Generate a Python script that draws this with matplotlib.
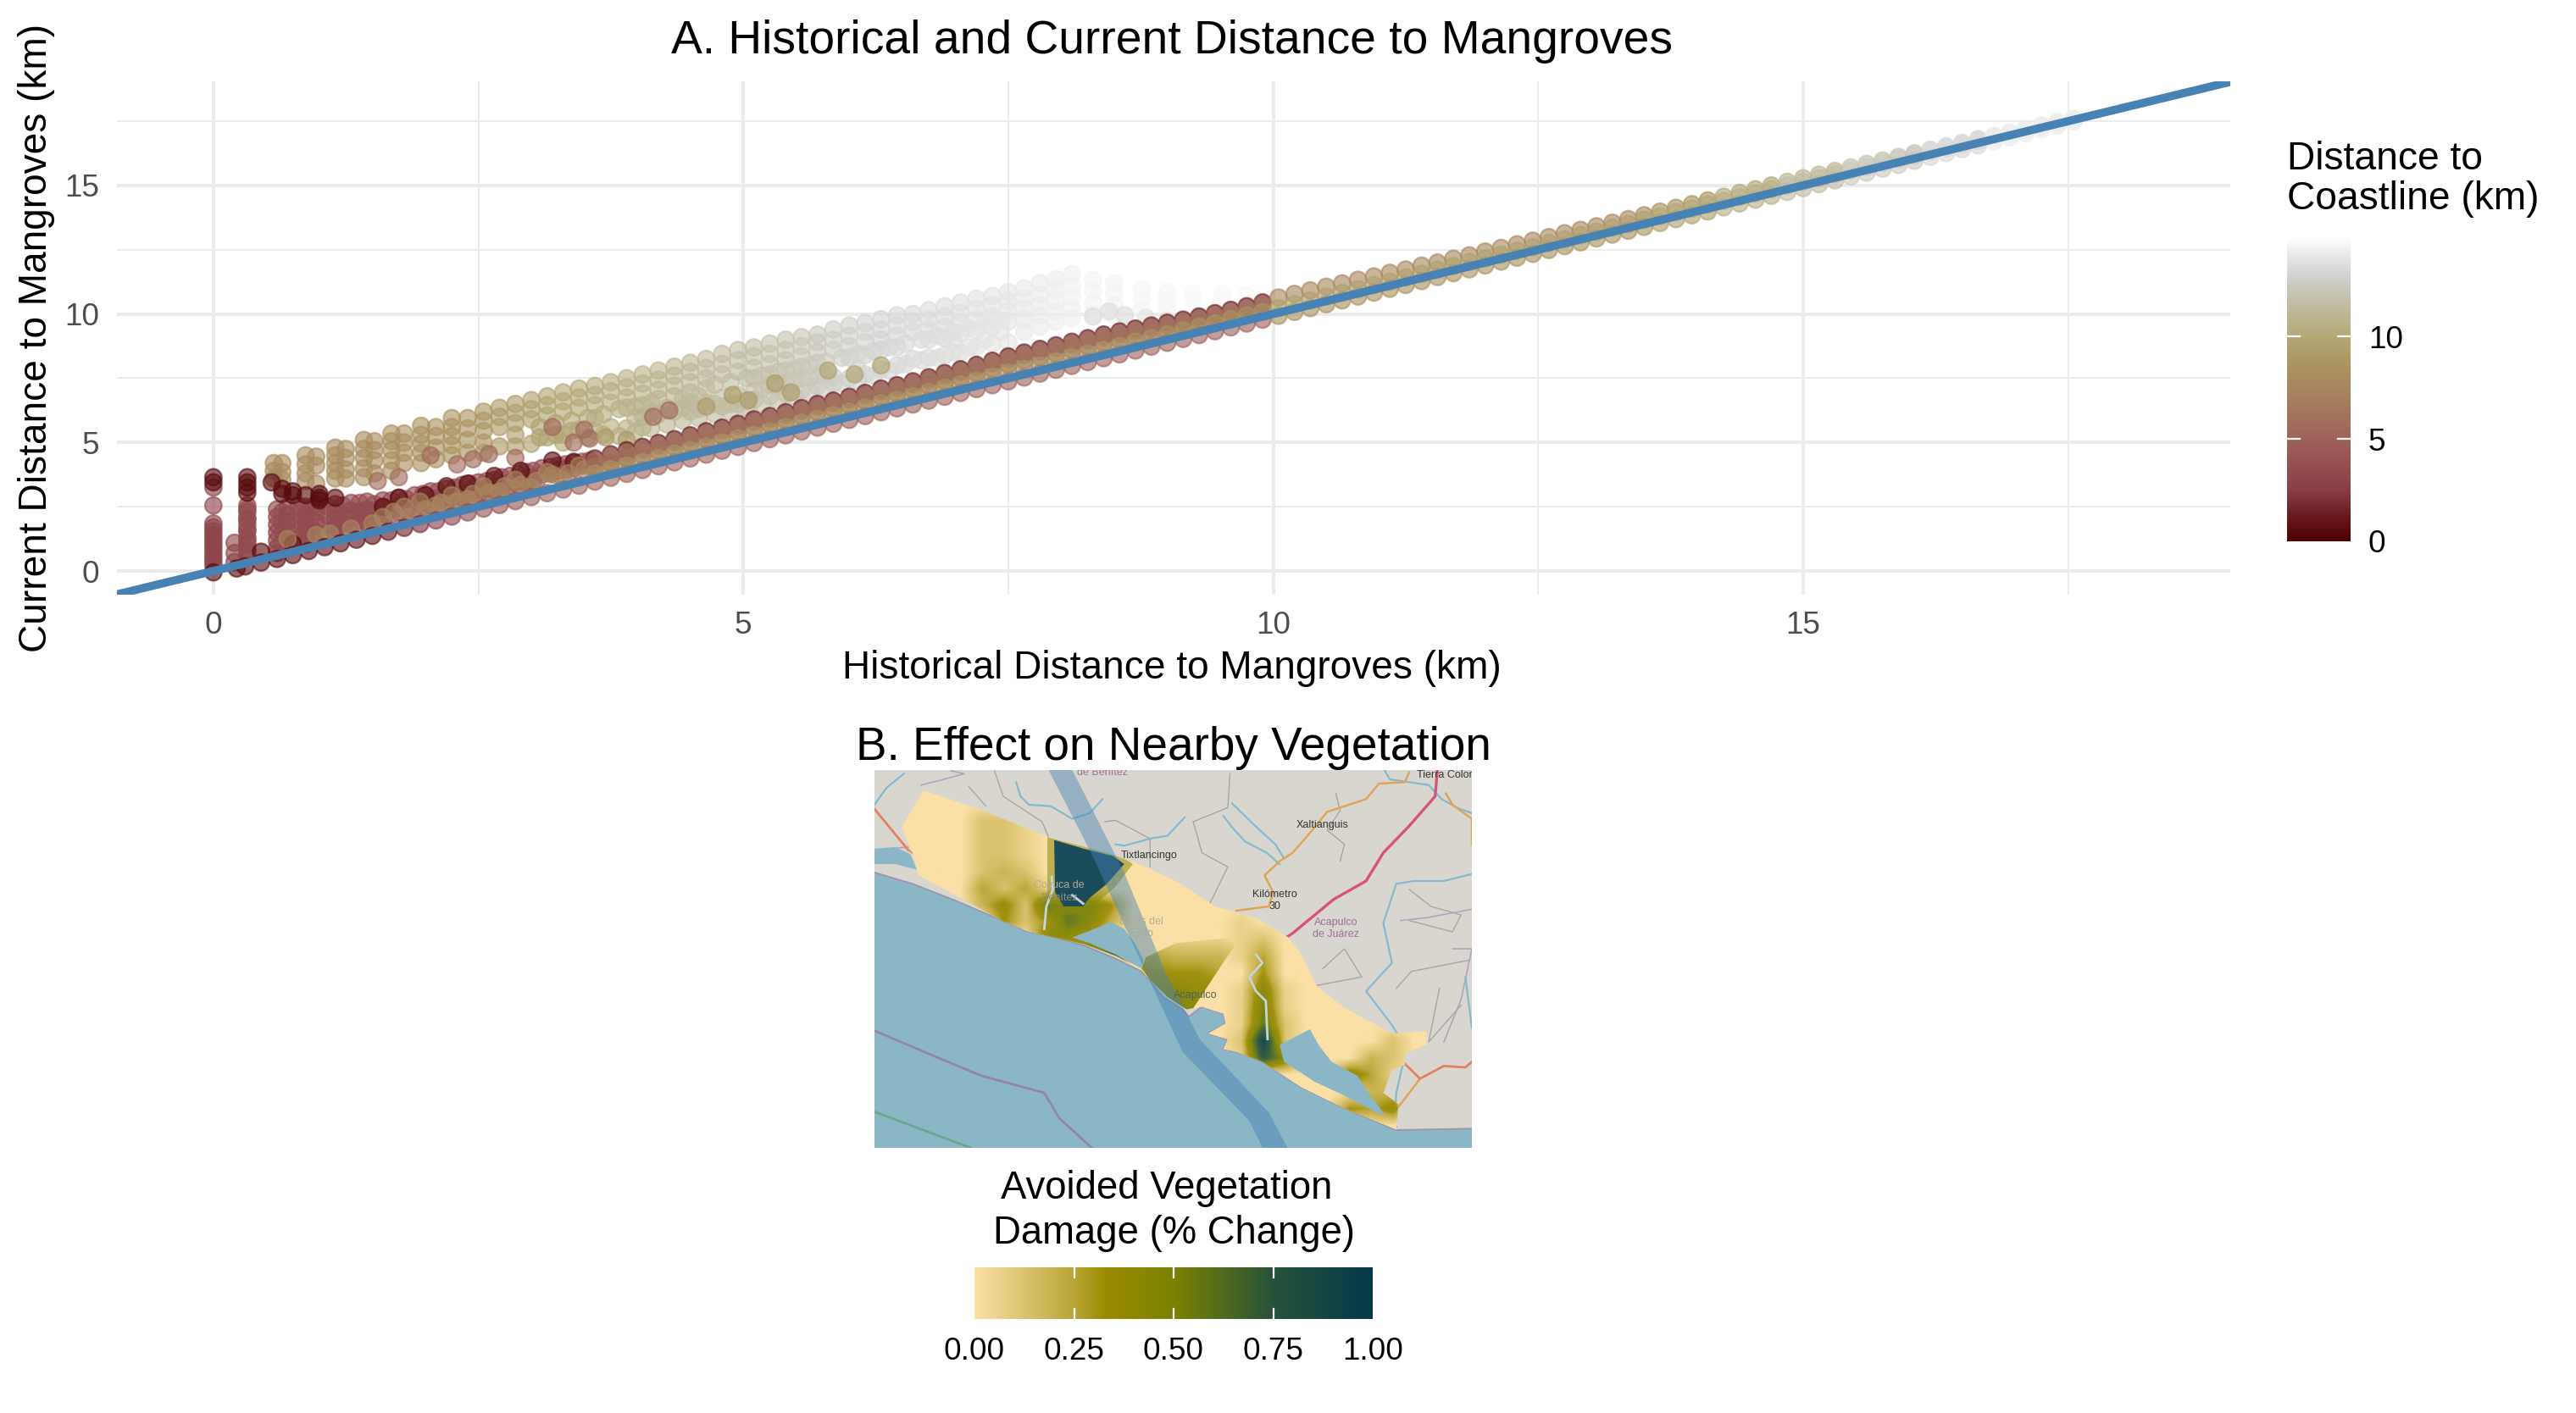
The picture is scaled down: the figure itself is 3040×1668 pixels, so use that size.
import numpy as np
import matplotlib
matplotlib.use("Agg")
import matplotlib.pyplot as plt
from matplotlib.colors import LinearSegmentedColormap, Normalize
from matplotlib.cm import ScalarMappable
from matplotlib.patches import Polygon

plt.rcParams['font.family'] = ['Liberation Sans', 'DejaVu Sans']

W, H = 3040, 1668

# ---- panel A values (km) ----
x_ticks = [0, 5, 10, 15]
x_minor = [2.5, 7.5, 12.5, 17.5]

# upper cloud, one column per historical distance
upper_x = [0.57, 0.65, 0.87, 0.97, 1.15, 1.25, 1.42, 1.52, 1.68, 1.8, 1.96, 2.1, 2.25, 2.4, 2.55, 2.7, 2.85, 3.0, 3.15, 3.3,
           3.45, 3.6, 3.75, 3.9, 4.05, 4.2, 4.35, 4.5, 4.65, 4.8, 4.95, 5.1, 5.25, 5.4, 5.55, 5.7, 5.85, 6.0, 6.15, 6.3,
           6.45, 6.6, 6.75, 6.9, 7.05, 7.2, 7.35, 7.5, 7.65, 7.8, 7.95, 8.1, 8.3, 8.5, 8.76, 9.0, 9.24, 9.52, 9.74]
upper_ys = [[4.2, 3.9, 3.6], [4.2, 3.85, 3.55], [4.5, 4.15, 3.8, 3.5], [4.45, 4.1, 3.4], [4.8, 4.5, 4.2, 3.9, 3.6],
            [4.75, 4.4, 3.95, 3.6], [5.1, 4.75, 4.4, 4.0, 3.65], [5.05, 4.7, 4.3, 3.8], [5.35, 5.05, 4.7, 4.3, 3.9],
            [5.35, 5.0, 4.6, 4.2], [5.65, 5.3, 4.95, 4.6, 4.2], [5.6, 5.25, 4.8, 4.35], [5.95, 5.6, 5.25, 4.9, 4.5],
            [5.95, 5.55, 5.1, 4.6], [6.2, 5.85, 5.45, 5.0, 4.6], [6.35, 6.0, 5.6, 4.85], [6.5, 6.15, 5.75, 5.3, 4.85],
            [6.65, 6.3, 5.9, 4.95], [6.8, 6.45, 6.05, 5.2], [6.95, 6.6, 6.2, 5.3, 5.0], [7.1, 6.75, 6.35, 5.5],
            [7.2, 6.85, 6.45, 5.95, 5.45], [7.35, 7.0, 6.55, 5.6], [7.5, 7.15, 6.75, 6.35, 5.55], [7.65, 7.3, 6.9, 6.45, 6.0, 5.6],
            [7.8, 7.45, 7.05, 6.7, 6.1], [7.95, 7.6, 7.2, 6.8, 6.2], [8.1, 7.75, 7.35, 6.95, 6.55, 6.2], [8.25, 7.9, 7.5, 7.1, 6.55],
            [8.45, 8.05, 7.65, 6.75, 6.4], [8.6, 8.2, 7.75, 6.85, 6.5], [8.7, 8.35, 7.9, 7.5, 7.0, 6.65], [8.85, 8.45, 8.05, 7.65, 7.25, 6.8],
            [9.0, 8.6, 8.2, 7.8, 7.3, 6.9], [9.1, 8.75, 8.35, 7.95, 7.5, 7.05], [9.2, 8.9, 8.5, 8.1, 7.6, 7.2], [9.4, 9.0, 8.6, 7.55, 7.3],
            [9.55, 9.15, 8.75, 8.3, 7.5], [9.65, 9.3, 8.9, 8.4, 7.65], [9.8, 9.4, 9.0, 8.6, 7.85], [9.95, 9.55, 9.15, 8.7, 8.0],
            [10.0, 9.7, 9.3, 8.25], [10.15, 9.8, 9.4, 9.0, 8.3], [10.3, 9.9, 9.5, 9.05, 8.4], [10.45, 10.05, 9.65, 9.25, 8.5],
            [10.6, 10.2, 9.8, 9.35, 8.7], [10.7, 10.35, 9.9, 9.5, 8.85], [10.85, 10.5, 10.1, 9.7, 8.9], [11.0, 10.6, 10.2, 9.8, 9.3],
            [11.2, 10.75, 10.35, 9.95, 9.5], [11.35, 10.95, 10.5, 10.1, 9.7], [11.55, 11.1, 10.65, 10.2, 9.85], [11.3, 10.9, 10.45, 10.0],
            [11.2, 10.8, 10.35, 9.95], [10.95, 10.55, 10.15], [10.85, 10.5, 10.2], [10.8, 10.5], [10.78, 10.55], [10.75]]
upper_d = [8, 8, 8, 8, 8, 8, 8, 8, 8.2, 8.2, 8.3, 8.4, 8.5, 8.6, 8.8, 9, 9.3, 9.5, 9.7, 10,
           10, 10.2, 10.4, 10.6, 10.8, 11, 11, 11.2, 11.4, 11.5, 11.6, 11.7, 11.9, 12, 12.2, 12.4, 12.6, 12.8, 13, 13.1,
           13.2, 13.3, 13.4, 13.5, 13.6, 13.7, 13.8, 13.9, 14, 14.1, 14.2, 14.3, 14.4, 14.4, 14.5, 14.5, 14.6, 14.6, 14.6]
# in-between columns in the lower half of the cloud
extra_x = [3.08, 3.23, 3.38, 3.53, 3.68, 3.83, 3.98, 4.13, 4.28, 4.43, 4.58, 4.73, 4.88, 5.03, 5.18, 5.33, 5.48, 5.63, 5.78, 5.93,
           6.08, 6.23, 6.38, 6.53, 6.68, 6.83, 6.98, 7.13, 7.28, 7.43]
extra_ys = [[5.6, 5.2], [5.75, 5.3], [5.85, 5.45], [5.95, 5.2], [6.1, 5.3], [6.3, 5.25], [6.4, 5.95, 5.4], [6.55, 6.15, 5.55], [6.35, 5.7],
            [6.7, 6.35, 5.85], [6.8, 6.3, 5.95], [7.25, 6.5, 6.1], [7.35, 6.5, 6.2], [7.5, 6.6, 6.35], [7.6, 7.1, 6.5], [7.75, 7.2, 6.65],
            [7.85, 7.4, 6.8], [8.0, 7.5, 6.95], [8.15, 7.65, 7.1], [8.3, 7.3], [8.45, 7.85, 7.4], [8.55, 7.6], [8.7, 7.8], [8.85, 8.05],
            [9.0, 8.2], [9.15, 8.3], [9.3, 8.95, 8.5], [9.45, 8.7], [9.6, 9.0], [9.75, 9.3]]
extra_d = [9.5, 9.7, 10, 10.2, 10.4, 10.6, 10.8, 11, 11, 11.2, 11.4, 11.5, 11.6, 11.7, 11.9, 12, 12.2, 12.4, 12.6, 12.8,
           13, 13.1, 13.2, 13.3, 13.4, 13.5, 13.6, 13.7, 13.8, 13.9]

# pale points scattered between the columns
pink_x = [2.05, 2.3, 2.6, 2.85, 3.2, 3.4, 3.5, 3.55, 4.15, 4.3, 1.55, 1.75, 2.45]
pink_y = [4.5, 4.15, 4.55, 4.4, 5.6, 5.0, 5.5, 5.15, 6.0, 6.25, 3.5, 3.65, 4.35]
ring_x = [3.7, 3.9, 4.65, 4.9, 5.05, 5.3, 5.45, 5.8, 6.05, 6.3, 8.3, 8.45, 8.6, 8.8, 9.0, 9.3]
ring_y = [5.2, 5.1, 6.4, 6.85, 6.65, 7.3, 6.95, 7.8, 7.65, 8.0, 9.9, 10.1, 9.95, 9.85, 9.75, 9.9]
ring_d = [9, 9, 9, 9, 9, 9, 9, 9.5, 9.5, 9.5, 13.5, 13.5, 13.5, 13.8, 13.8, 14]

# maroon mass on the left
mass_x = [0.0, 0.2, 0.32, 0.6, 0.7, 0.87, 0.97, 1.15, 1.3, 1.45, 1.6, 1.75, 1.9, 2.05, 2.2, 2.35, 2.5, 2.65, 2.8, 2.95, 3.1, 3.25, 3.4, 3.55]
mass_ys = [[3.25, 2.55, 1.85, 1.7, 1.55, 1.4, 1.25, 1.1, 0.95, 0.8, 0.65, 0.5, 0.35, 0.2], [1.1, 0.7, 0.35],
           [2.55, 2.3, 2.05, 1.8, 1.55, 1.3, 1.05, 0.8, 0.55], [2.4, 2.1, 1.8, 1.5, 1.2, 0.9, 0.7], [2.5, 2.2, 1.9, 1.6, 1.3, 1.0],
           [2.5, 2.2, 1.9, 1.6, 1.3, 1.05], [2.6, 2.3, 1.9, 1.5], [2.6, 2.3, 2.0, 1.7, 1.45], [2.65, 2.35, 2.05, 1.8],
           [2.7, 2.4, 2.1, 1.85], [2.75, 2.45, 2.2, 1.95], [2.85, 2.5, 2.3], [2.95, 2.65, 2.4], [3.1, 2.8, 2.55], [3.2, 2.9, 2.7],
           [3.35, 3.0, 2.85], [3.45, 3.15, 3.0], [3.55, 3.3, 3.15], [3.7, 3.45, 3.3], [3.85, 3.6, 3.45], [4.0, 3.75], [4.1, 3.9], [4.2, 4.0], [4.3, 4.15]]
# second layer, between the columns above
mass2_x = [0.32, 0.65, 0.8, 0.92, 1.08, 1.22, 1.38, 1.52, 1.68, 1.82, 1.98, 2.12, 2.28, 2.42, 2.58, 2.72, 2.88, 3.02, 3.18, 3.32, 3.48]
mass2_ys = [[2.4, 2.0, 1.6, 1.2, 0.8], [2.3, 1.9, 1.5, 1.1], [2.55, 2.25, 1.95, 1.6, 1.25], [2.45, 2.05, 1.7, 1.3], [2.5, 2.15, 1.8, 1.45],
            [2.55, 2.2, 1.85, 1.6], [2.65, 2.3, 2.0, 1.75], [2.6, 2.3, 2.05], [2.75, 2.4, 2.2], [2.8, 2.55, 2.35], [3.0, 2.7, 2.5],
            [3.1, 2.85, 2.65], [3.25, 2.95, 2.75], [3.4, 3.1, 2.9], [3.5, 3.2, 3.05], [3.65, 3.35, 3.2], [3.75, 3.5, 3.35], [3.9, 3.65, 3.5],
            [4.05, 3.8], [4.15, 3.95], [4.25, 4.1]]
dark_x = [0.0, 0.0, 0.0, 0.32, 0.32, 0.32, 0.32, 0.55, 0.65, 0.65, 0.75, 0.75, 0.87, 1.0, 1.0, 1.0, 1.15, 1.6, 1.75, 2.0, 2.2, 2.4, 2.65, 2.9, 3.2, 3.4, 0.22, 0.45, 0.75]
dark_y = [3.65, 3.45, -0.05, 3.65, 3.45, 3.25, 3.05, 3.45, 3.2, 3.0, 3.1, 2.95, 2.95, 3.0, 2.85, 2.75, 2.85, 2.5, 2.85, 2.95, 3.3, 3.4, 3.7, 3.9, 4.3, 4.25, 0.1, 0.75, 1.05]
tan_low_x = [0.7, 0.97, 1.1, 1.3, 1.5, 1.6, 1.7, 1.8, 1.85, 1.95, 2.0, 2.1, 2.15, 2.25, 2.3, 2.4, 2.45, 2.55, 2.6, 2.7, 2.75, 2.85, 2.9, 3.0, 3.05, 3.15, 3.2, 3.3, 3.35, 3.45, 3.5, 3.6, 3.75, 3.9]
tan_low_y = [1.25, 1.4, 1.45, 1.65, 1.85, 2.1, 2.3, 2.5, 2.1, 2.7, 2.4, 2.55, 2.65, 2.95, 2.7, 2.8, 3.0, 3.3, 3.05, 3.1, 3.3, 3.55, 3.35, 3.25, 3.5, 3.85, 3.75, 3.55, 3.8, 4.1, 3.95, 3.9, 4.2, 4.4]

# strand hugging the 1:1 line on the left
start_x = [0.3, 0.45, 0.6, 0.75, 0.9, 1.05, 1.2, 1.35, 1.5, 1.65, 1.8, 1.95, 2.1, 2.25, 2.4, 2.55, 2.7, 2.85, 3.0, 3.15, 3.3, 3.45]
start_y = [0.18, 0.33, 0.47, 0.62, 0.78, 0.93, 1.08, 1.22, 1.37, 1.53, 1.68, 1.83, 1.97, 2.12, 2.28, 2.43, 2.57, 2.72, 2.88, 3.03, 3.17, 3.32]
start_d = [0.6, 0.6, 0.6, 0.6, 0.6, 0.6, 0.6, 0.8, 0.8, 1, 1.5, 2, 2.5, 3, 3.5, 4, 4, 4.5, 4.5, 5, 5, 5]

# long ribbon along the line
ribbon_x = [3.6, 3.75, 3.9, 4.05, 4.2, 4.35, 4.5, 4.65, 4.8, 4.95, 5.1, 5.25, 5.4, 5.55, 5.7, 5.85, 6.0, 6.15, 6.3, 6.45,
            6.6, 6.75, 6.9, 7.05, 7.2, 7.35, 7.5, 7.65, 7.8, 7.95, 8.1, 8.25, 8.4, 8.55, 8.7, 8.85, 9.0, 9.15, 9.3, 9.45,
            9.6, 9.75, 9.9, 10.05, 10.2, 10.35, 10.5, 10.65, 10.8, 10.95, 11.1, 11.25, 11.4, 11.55, 11.7, 11.85, 12.0, 12.15, 12.3, 12.45,
            12.6, 12.75, 12.9, 13.05, 13.2, 13.35, 13.5, 13.65, 13.8, 13.95, 14.1, 14.25, 14.4, 14.55, 14.7, 14.85, 15.0, 15.15, 15.3, 15.45,
            15.6, 15.75, 15.9, 16.05, 16.2, 16.35, 16.5, 16.65, 16.8, 16.95, 17.1, 17.25, 17.4, 17.55]
body_y = [4.28, 4.43, 4.6, 4.72, 4.88, 5.03, 5.18, 5.34, 5.48, 5.63, 5.8, 5.93, 6.08, 6.23, 6.4, 6.53, 6.68, 6.83, 7.0, 7.13,
          7.28, 7.43, 7.6, 7.75, 7.92, 8.08, 8.25, 8.4, 8.54, 8.68, 8.82, 8.96, 9.1, 9.22, 9.33, 9.45, 9.56, 9.68, 9.8, 9.93,
          10.06, 10.2, 10.35, 10.64, 10.78, 10.92, 11.06, 11.19, 11.33, 11.46, 11.6, 11.73, 11.88, 12.0, 12.15, 12.28, 12.43, 12.57, 12.71, 12.85,
          12.99, 13.14, 13.27, 13.41, 13.55, 13.69, 13.84, 13.98, 14.13, 14.27, 14.42, 14.56, 14.71, 14.85, 15.0, 15.14, 15.28, 15.42, 15.56, 15.7,
          15.84, 15.97, 16.11, 16.25, 16.39, 16.52, 16.66, 16.8, 16.93, 17.06, 17.2, 17.33, 17.46, 17.58]
edge_y = [4.38, 4.54, 4.7, 4.83, 4.98, 5.13, 5.28, 5.44, 5.58, 5.73, 5.9, 6.03, 6.18, 6.34, 6.5, 6.63, 6.78, 6.93, 7.1, 7.23,
          7.38, 7.54, 7.7, 7.85, 8.02, 8.18, 8.35, 8.5, 8.64, 8.78, 8.92, 9.06, 9.2, 9.32, 9.43, 9.55, 9.66, 9.78, 9.9, 10.03,
          10.16, 10.3, 10.45]
mid_y = [4.06, 4.21, 4.38, 4.5, 4.66, 4.81, 4.96, 5.12, 5.26, 5.41, 5.58, 5.71, 5.86, 6.01, 6.18, 6.31, 6.46, 6.61, 6.78, 6.91,
         7.06, 7.21, 7.38, 7.53, 7.7, 7.86, 8.03, 8.18, 8.32, 8.46, 8.6, 8.74, 8.88, 9.0, 9.11, 9.23, 9.34, 9.46, 9.58, 9.71,
         9.84, 9.98, 10.13]
tan_y = [3.8, 3.96, 4.1, 4.24, 4.4, 4.56, 4.7, 4.84, 5.0, 5.16, 5.3, 5.44, 5.6, 5.76, 5.92, 6.06, 6.2, 6.36, 6.52, 6.66,
         6.8, 6.96, 7.12, 7.26, 7.4, 7.56, 7.72, 7.86, 8.0, 8.16, 8.32, 8.46, 8.6, 8.76, 8.92, 9.06, 9.2, 9.36, 9.5, 9.64,
         9.8, 9.94, 10.08, 10.22, 10.38, 10.52, 10.68, 10.82, 10.96, 11.12, 11.26, 11.42, 11.56, 11.72, 11.86, 12.02, 12.16, 12.3, 12.46, 12.6,
         12.76, 12.9, 13.06, 13.2, 13.36, 13.5, 13.66, 13.8, 13.96, 14.1, 14.26, 14.4, 14.56, 14.7, 14.86, 15.0, 15.14, 15.28, 15.44, 15.58,
         15.72, 15.88, 16.02, 16.16, 16.3, 16.44, 16.58, 16.72, 16.86, 17.0, 17.14, 17.28, 17.42, 17.56]
under_y = [3.48, 3.63, 3.78, 3.93, 4.08, 4.23, 4.38, 4.53, 4.68, 4.83, 4.98, 5.13, 5.28, 5.43, 5.58, 5.73, 5.88, 6.03, 6.18, 6.33,
           6.48, 6.63, 6.78, 6.93, 7.08, 7.23, 7.38, 7.53, 7.68, 7.83, 7.98, 8.13, 8.28, 8.43, 8.58, 8.73, 8.88, 9.03, 9.18, 9.33,
           9.48, 9.63, 9.78, 9.93, 10.08, 10.23, 10.38, 10.53, 10.68, 10.83, 10.98, 11.13, 11.28, 11.44, 11.59, 11.74, 11.89, 12.04, 12.19, 12.34,
           12.49, 12.64, 12.79, 12.94, 13.09, 13.24, 13.39, 13.54, 13.69, 13.84, 13.99, 14.15, 14.3, 14.45, 14.6, 14.75, 14.9, 15.05, 15.2, 15.35,
           15.5, 15.65, 15.8, 15.96, 16.11, 16.26, 16.41, 16.56, 16.72, 16.87, 17.02, 17.18, 17.33, 17.49]
body_d = [6] * 43 + [7.5] * 24 + [8.5] * 4 + [10] * 4 + [11] * 4 + [12] * 5 + [13] * 4 + [14] * 6
tan_d = [8.5] * 43 + [9.5] * 24 + [10] * 4 + [10.5] * 4 + [11.5] * 4 + [12.5] * 5 + [13.3] * 4 + [14.2] * 6
under_d = [5] * 43 + [8.5] * 24 + [9.5] * 4 + [10.5] * 4 + [11.5] * 4 + [12.5] * 5 + [13.3] * 4 + [14.2] * 6

# colour scales
dist_stops = [0, 1.25, 2.5, 3.75, 5, 7.5, 8.5, 10, 12, 13, 14, 14.85]
dist_cols = ['#4f0000', '#6a1a20', '#8a3e47', '#954f52', '#9e625a', '#a98660', '#aa925f', '#b3a876', '#c5c2ae', '#d2d2d0', '#e8e8e8', '#ffffff']
dist_ticks = [0, 5, 10]
veg_stops = [0, 0.25, 0.33, 0.5, 0.75, 1]
veg_cols = ['#fbe0a6', '#b9a535', '#9a8a00', '#7a8200', '#27523a', '#03394a']
veg_ticks = [0, 0.25, 0.5, 0.75, 1]
veg_labels = ['0.00', '0.25', '0.50', '0.75', '1.00']

# ---- panel B: map outlines in map units, vegetation grids in fifteenths (hex digits) ----
sea_x = [62, 150, 250, 350, 420, 480, 550, 620, 680, 700, 730, 775, 790, 820, 870, 875, 835, 880, 870, 900, 960, 1050, 1150, 1270, 1445, 1445, 62]
sea_y = [450, 490, 550, 615, 660, 680, 710, 755, 800, 835, 890, 935, 960, 925, 950, 985, 1020, 1040, 1075, 1085, 1120, 1210, 1285, 1362, 1357, 1425, 1425]
bay_x = [62, 110, 145, 160, 110, 62]
bay_y = [365, 360, 385, 440, 420, 420]
study_x = [175, 305, 465, 610, 690, 770, 850, 950, 1020, 1050, 1085, 1150, 1260, 1340, 1340, 1290, 1290, 1260, 1240, 1275, 1270, 1150, 1050, 960, 900, 870, 880, 835, 875, 870, 820, 785, 740, 700, 680, 620, 550, 480, 420, 350, 250, 165, 150, 125]
study_y = [160, 225, 325, 385, 430, 490, 570, 615, 680, 740, 850, 930, 1020, 1013, 1060, 1090, 1130, 1150, 1230, 1270, 1360, 1285, 1210, 1120, 1085, 1075, 1040, 1020, 985, 950, 925, 935, 890, 830, 795, 745, 705, 680, 660, 615, 530, 460, 380, 290]
lagoon1_x = [520, 570, 610, 640, 665, 685, 680, 620, 560]
lagoon1_y = [680, 650, 625, 650, 700, 760, 790, 740, 700]
lagoon2_x = [1000, 1070, 1090, 1120, 1180, 1210, 1245, 1225, 1150, 1080, 1010]
lagoon2_y = [1060, 1005, 1060, 1120, 1170, 1240, 1310, 1300, 1240, 1190, 1120]
track_x = [465, 520, 640, 735, 815, 975, 1018, 960, 930, 775, 680, 570]
track_y = [87, 87, 450, 800, 1040, 1300, 1425, 1425, 1330, 1085, 770, 400]
hot_x = [478, 545, 615, 640, 600, 560, 545, 500, 480]
hot_y = [335, 365, 392, 420, 490, 540, 570, 570, 520]
halo_x = [462, 545, 625, 660, 620, 575, 550, 490, 462]
halo_y = [325, 355, 385, 420, 500, 560, 595, 600, 560]
tri_x = [680, 690, 760, 895, 895, 800, 785, 740, 700]
tri_y = [790, 750, 700, 680, 710, 930, 935, 890, 830]
veg_rows = ["0000000000000000000000000000",
            "0000000000000000000000000000",
            "0000000000000000000000000000",
            "0000022100000000000000000000",
            "0000022100000000000000000000",
            "0000022100000000000000000000",
            "0000023200000000000000000000",
            "0000042410000000000000000000",
            "0000036298850000000000000000",
            "0000005259730000010000000000",
            "0000000076500000012000000000",
            "0000000000bc0000014000000000",
            "0000000000000000005000000000",
            "0000000000000000017100000000",
            "0000000000000000018100000000",
            "0000000000000000019200000000",
            "000000000000000002f200002000",
            "000000000000000001c700032000",
            "0000000000000000000000741000",
            "0000000000000000000000033000",
            "0000000000000000000000546000",
            "0000000000000000000000000000"]
tri_rows = ["011110",
            "443332",
            "655543",
            "877654",
            "998754"]

rivers = [([62, 90, 130], [210, 150, 100]),
          ([390, 400, 420, 470, 520, 560, 590], [130, 180, 210, 215, 260, 240, 190]),
          ([620, 640, 700, 740, 780], [350, 355, 330, 320, 255]),
          ([870, 890, 920, 970, 1000], [250, 290, 340, 380, 420]),
          ([890, 940, 990, 1010], [205, 280, 350, 400]),
          ([1445, 1380, 1310, 1270, 1240, 1260, 1200, 1260, 1280], [455, 480, 480, 490, 630, 770, 870, 990, 1040]),
          ([1430, 1445], [820, 1000]),
          ([1240, 1255, 1345, 1375, 1410, 1445], [80, 120, 140, 190, 220, 240]),
          ([1285, 1270, 1265], [1130, 1230, 1360])]
highway = ([1015, 1030, 1125, 1200, 1240, 1300, 1360, 1365], [680, 665, 545, 480, 380, 285, 180, 87])
orange_roads = [([1300, 1290, 1230, 1200, 1110, 1070, 1030, 1000, 965, 985, 975, 900], [95, 130, 135, 190, 235, 310, 380, 410, 460, 520, 570, 585]),
                ([1385, 1400, 1445, 1445], [170, 210, 260, 350]),
                ([1325, 1275], [1180, 1280])]
red_roads = [([62, 140], [225, 370]),
             ([1285, 1325, 1380, 1430, 1445], [1120, 1180, 1135, 1140, 1120])]
faint_roads = [([140, 270, 395, 460, 590, 750, 860, 945, 1040, 1030, 1180, 1290], [370, 510, 530, 500, 605, 660, 635, 730, 800, 970, 1000, 1130]),
               ([945, 1015], [730, 680]),
               ([860, 905, 960, 1030], [635, 800, 960, 970]),
               ([970, 1000, 1060, 1270], [1060, 1000, 1160, 1350])]
grey_lines = [([280, 300, 320], [145, 180, 215]),
              ([340, 360, 450, 465], [90, 180, 270, 325]),
              ([595, 620, 700, 700], [270, 265, 330, 430]),
              ([800, 880, 885], [270, 220, 100]),
              ([800, 820, 880, 835], [270, 380, 430, 570]),
              ([1130, 1140, 1110, 1150, 1140], [170, 230, 300, 350, 410]),
              ([1100, 1150, 1190, 1085], [790, 720, 820, 850]),
              ([1270, 1305, 1440], [860, 800, 760]),
              ([1300, 1350, 1420, 1400, 1300], [510, 570, 600, 660, 620]),
              ([1370, 1345, 1420], [860, 1050, 920])]
purple_lines = [([170, 210, 270, 240], [140, 125, 100, 90]),
                ([62, 140], [370, 360]),
                ([1400, 1445, 1420, 1380], [720, 720, 900, 1050]),
                ([1280, 1340, 1445], [620, 610, 580])]
pale_streams = [([945, 960, 930, 945, 968, 972], [740, 770, 820, 870, 905, 1040]),
                ([472, 475, 460, 455], [465, 510, 570, 650]),
                ([520, 545], [530, 560])]
map_labels = [("Tixtlancingo", 697, 390, '#333333'), ("Xaltianguis", 1100, 282, '#333333'),
              ("Kilómetro", 988, 528, '#333333'), ("30", 988, 570, '#333333'),
              ("Tierra Color", 1382, 105, '#333333'), ("Acapulco", 1130, 628, '#9d6f9f'),
              ("de Juárez", 1130, 668, '#9d6f9f'), ("de Benítez", 590, 95, '#9d6f9f'),
              ("Coyuca de", 490, 495, '#b5ab96'), ("Benítez", 490, 540, '#8f8f80'),
              ("Bajos del", 680, 625, '#b5ab96'), ("Ejido", 680, 665, '#a5aaa0'),
              ("Acapulco", 805, 885, '#4f5f4f')]

dist_cmap = LinearSegmentedColormap.from_list('dist', [(s / 14.85, c) for s, c in zip(dist_stops, dist_cols)])
dist_norm = Normalize(0, 14.85)
veg_cmap = LinearSegmentedColormap.from_list('veg', list(zip(veg_stops, veg_cols)))
veg_norm = Normalize(0, 1)


def box(left, top, right, bottom):
    # pixel box of the picture -> figure fractions
    return [left / W, 1 - bottom / H, (right - left) / W, (bottom - top) / H]


def put(x, y, s, size, ha='center', **kw):
    fig.text(x / W, 1 - y / H, s, fontsize=size, ha=ha, va='center', **kw)


def dots(ax, xs, ys, ds):
    ax.scatter(xs, ys, c=ds, cmap=dist_cmap, norm=dist_norm, s=50, alpha=0.62, linewidths=0.8, edgecolors='face', zorder=3)


def veg_raster(ax, rows, left, top, clip_x, clip_y, zorder):
    grid = np.array([[int(c, 16) / 15 for c in r] for r in rows])
    ny, nx = grid.shape
    im = ax.imshow(grid, cmap=veg_cmap, norm=veg_norm, extent=(left - 25, left + 50 * nx - 25, top + 60 * ny - 30, top - 30),
                   origin='upper', aspect='auto', interpolation='bilinear', alpha=0.92, zorder=zorder)
    im.set_clip_path(Polygon(np.column_stack([clip_x, clip_y]), closed=True, transform=ax.transData))


fig = plt.figure(figsize=(W / 200, H / 200), dpi=200, facecolor='white')

# ---- panel A ----
ax = fig.add_axes(box(138, 96, 2632, 702))
ax.set_xlim(-0.91, 19.03)
ax.set_ylim(-0.92, 19.05)
for s in ax.spines.values():
    s.set_visible(False)
ax.set_xticks(x_ticks)
ax.set_yticks(x_ticks)
ax.set_xticks(x_minor, minor=True)
ax.set_yticks(x_minor, minor=True)
ax.grid(True, which='major', color='#ebebeb', lw=1.45)
ax.grid(True, which='minor', color='#ebebeb', lw=0.72)
ax.set_axisbelow(True)
ax.tick_params(which='both', length=0)
ax.tick_params(axis='x', labelsize=13.3, labelcolor='#4d4d4d', pad=6.8)
ax.tick_params(axis='y', labelsize=13.3, labelcolor='#4d4d4d', pad=7.5)

for cx, cys, cd in zip(upper_x, upper_ys, upper_d):
    dots(ax, [cx] * len(cys), cys, [cd] * len(cys))
for cx, cys, cd in zip(extra_x, extra_ys, extra_d):
    dots(ax, [cx] * len(cys), cys, [cd] * len(cys))
dots(ax, pink_x, pink_y, [5.5] * len(pink_x))
dots(ax, ring_x, ring_y, ring_d)
for cx, cys in zip(mass_x, mass_ys):
    dots(ax, [cx] * len(cys), cys, [3] * len(cys))
for cx, cys in zip(mass2_x, mass2_ys):
    dots(ax, [cx] * len(cys), cys, [3.5] * len(cys))
dots(ax, dark_x, dark_y, [0.5] * len(dark_x))
dots(ax, tan_low_x, tan_low_y, [7.5] * len(tan_low_x))
dots(ax, start_x, start_y, start_d)
dots(ax, ribbon_x, under_y, under_d)
dots(ax, ribbon_x[:len(edge_y)], edge_y, [1.3] * len(edge_y))
dots(ax, ribbon_x, body_y, body_d)
dots(ax, ribbon_x[:len(mid_y)], mid_y, [6] * len(mid_y))
dots(ax, ribbon_x, tan_y, tan_d)
ax.axline((0, 0), slope=1, color='#4682b4', lw=3.5, zorder=4, solid_capstyle='butt')

put(1383, 49, "A. Historical and Current Distance to Mangroves", 19.85)
put(1383, 789, "Historical Distance to Mangroves (km)", 16.55)
put(43, 399, "Current Distance to Mangroves (km)", 16.55, rotation=90)

# legend of panel A
cax = fig.add_axes(box(2699, 280, 2774, 639))
cb = fig.colorbar(ScalarMappable(norm=dist_norm, cmap=dist_cmap), cax=cax, ticks=dist_ticks)
cb.outline.set_visible(False)
cax.tick_params(length=0, labelsize=13.3, pad=7.5)
for t in dist_ticks[1:]:
    cax.plot([0, 0.2], [t, t], color='white', lw=0.8, transform=cax.get_yaxis_transform())
    cax.plot([0.8, 1], [t, t], color='white', lw=0.8, transform=cax.get_yaxis_transform())
put(2699, 188, "Distance to", 16.6, ha='left')
put(2699, 235, "Coastline (km)", 16.6, ha='left')

# ---- panel B ----
put(1385, 883, "B. Effect on Nearby Vegetation", 19.75)
mp = fig.add_axes(box(1032, 909, 1737, 1355))
mp.set_facecolor('#d9d6cf')
for s in mp.spines.values():
    s.set_visible(False)
mp.set_xticks([])
mp.set_yticks([])

for lx, ly in grey_lines:
    mp.plot(lx, ly, color='#a8a5a2', lw=0.5, zorder=1)
for lx, ly in purple_lines:
    mp.plot(lx, ly, color='#b3a3bb', lw=0.6, zorder=1)
for lx, ly in rivers:
    mp.plot(lx, ly, color='#83bacd', lw=0.8, zorder=1)
for lx, ly in orange_roads:
    mp.plot(lx, ly, color='#e0a458', lw=0.9, zorder=1)
for lx, ly in red_roads:
    mp.plot(lx, ly, color='#e37f62', lw=1.0, zorder=1)
for lx, ly in faint_roads:
    mp.plot(lx, ly, color='#e58a6a', lw=0.8, zorder=1)
mp.plot(highway[0], highway[1], color='#d9527a', lw=1.2, zorder=1)
mp.plot([62, 200, 310, 455, 490, 565], [1010, 1100, 1170, 1230, 1320, 1425], color='#8f86a8', lw=1.0, zorder=2.5)
mp.plot([62, 285], [1297, 1425], color='#6aa58f', lw=1.0, zorder=2.5)

mp.fill(sea_x, sea_y, color='#8ab6c6', lw=0, zorder=2)
mp.plot(sea_x[:25], sea_y[:25], color='#9d96ad', lw=0.7, zorder=2.1)
mp.fill(bay_x, bay_y, color='#8ab6c6', lw=0, zorder=2)

study = Polygon(np.column_stack([study_x, study_y]), closed=True, facecolor='#fde2a6', edgecolor='none', alpha=0.86, zorder=3)
mp.add_patch(study)
veg_raster(mp, veg_rows, 62, 87, study_x, study_y, 3.1)
veg_raster(mp, tri_rows, 662, 687, tri_x, tri_y, 3.15)
halo = Polygon(np.column_stack([halo_x, halo_y]), closed=True, facecolor='#8a8a10', edgecolor='none', alpha=0.55, zorder=3.14)
mp.add_patch(halo)
halo.set_clip_path(study.get_path(), study.get_transform())
mp.fill(hot_x, hot_y, color='#1a4c5c', lw=0, zorder=3.15)
mp.fill(lagoon1_x, lagoon1_y, color='#8ab6c6', lw=0, zorder=3.2)
mp.fill(lagoon2_x, lagoon2_y, color='#8ab6c6', lw=0, zorder=3.2)
for lx, ly in pale_streams:
    mp.plot(lx, ly, color='#c5d5dc', lw=1.0, zorder=3.3)
mp.fill(track_x, track_y, color='#4682b4', alpha=0.45, lw=0, zorder=4)
for txt, lx, ly, col in map_labels:
    mp.text(lx, ly, txt, fontsize=4.5, color=col, ha='center', va='center', zorder=5, clip_on=True)
mp.set_xlim(62, 1445)
mp.set_ylim(1425, 87)

# legend of panel B
put(1377, 1403, "Avoided Vegetation", 16.4)
put(1385, 1456, "Damage (% Change)", 16.4)
bax = fig.add_axes(box(1150, 1496, 1620, 1557))
cb2 = fig.colorbar(ScalarMappable(norm=veg_norm, cmap=veg_cmap), cax=bax, orientation='horizontal', ticks=veg_ticks)
cb2.outline.set_visible(False)
cb2.set_ticklabels(veg_labels)
bax.tick_params(length=0, labelsize=13.3, pad=7.5)
for t in veg_ticks[1:-1]:
    bax.plot([t, t], [0, 0.2], color='white', lw=0.8, transform=bax.get_xaxis_transform())
    bax.plot([t, t], [0.8, 1], color='white', lw=0.8, transform=bax.get_xaxis_transform())

fig.savefig('out.png', dpi=200, facecolor='white')
